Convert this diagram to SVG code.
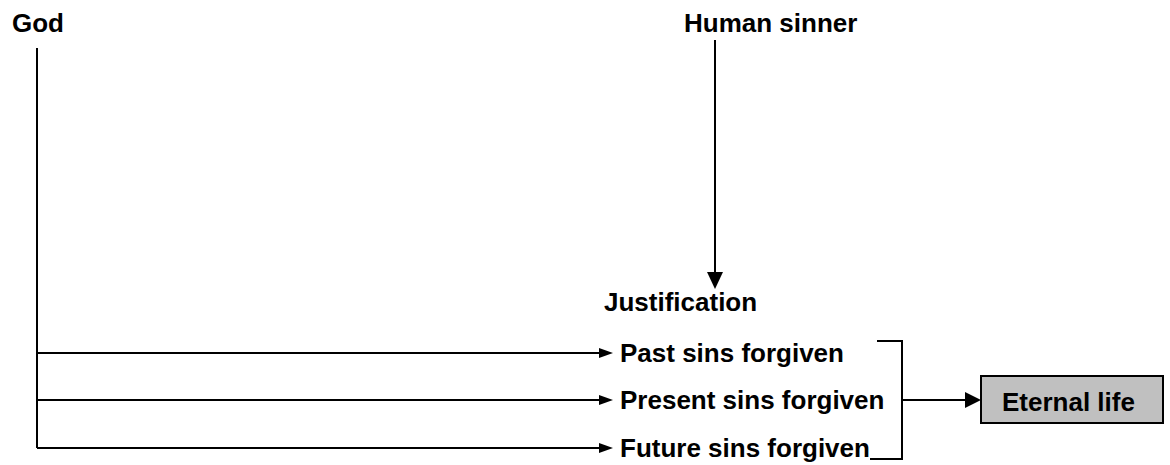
<svg xmlns="http://www.w3.org/2000/svg" width="1170" height="465" viewBox="0 0 1170 465">
<style>
text{font-family:"Liberation Sans",Arial,sans-serif;font-weight:bold;font-size:26px;fill:#000}
.ln{stroke:#000;stroke-width:2;fill:none}
</style>
<rect width="1170" height="465" fill="#fff"/>
<g id="god"><text x="12" y="32">God</text></g>
<g id="human"><text x="684" y="32">Human sinner</text></g>
<g id="justification"><text x="604" y="311">Justification</text></g>
<g id="past"><text x="620" y="362">Past sins forgiven</text></g>
<g id="present"><text x="620" y="409">Present sins forgiven</text></g>
<g id="future"><text x="620" y="457">Future sins forgiven</text></g>
<g id="eternal">
<rect x="981" y="376" width="182" height="47" fill="#c0c0c0" stroke="#000" stroke-width="2"/>
<text x="1002" y="411">Eternal life</text>
</g>
<g id="connectors">
<path class="ln" d="M37 48V448"/>
<path class="ln" d="M37 353H600M37 400H600M37 448H600"/>
<polygon points="599,348 613,353 599,358"/>
<polygon points="599,395 613,400 599,405"/>
<polygon points="599,443 613,448 599,453"/>
<path class="ln" d="M715 40V274"/>
<polygon points="707,272 723,272 715,289"/>
<path class="ln" d="M877 341H902V459H870"/>
<path class="ln" d="M902 400H966"/>
<polygon points="965,392 981,400 965,408"/>
</g>
</svg>
